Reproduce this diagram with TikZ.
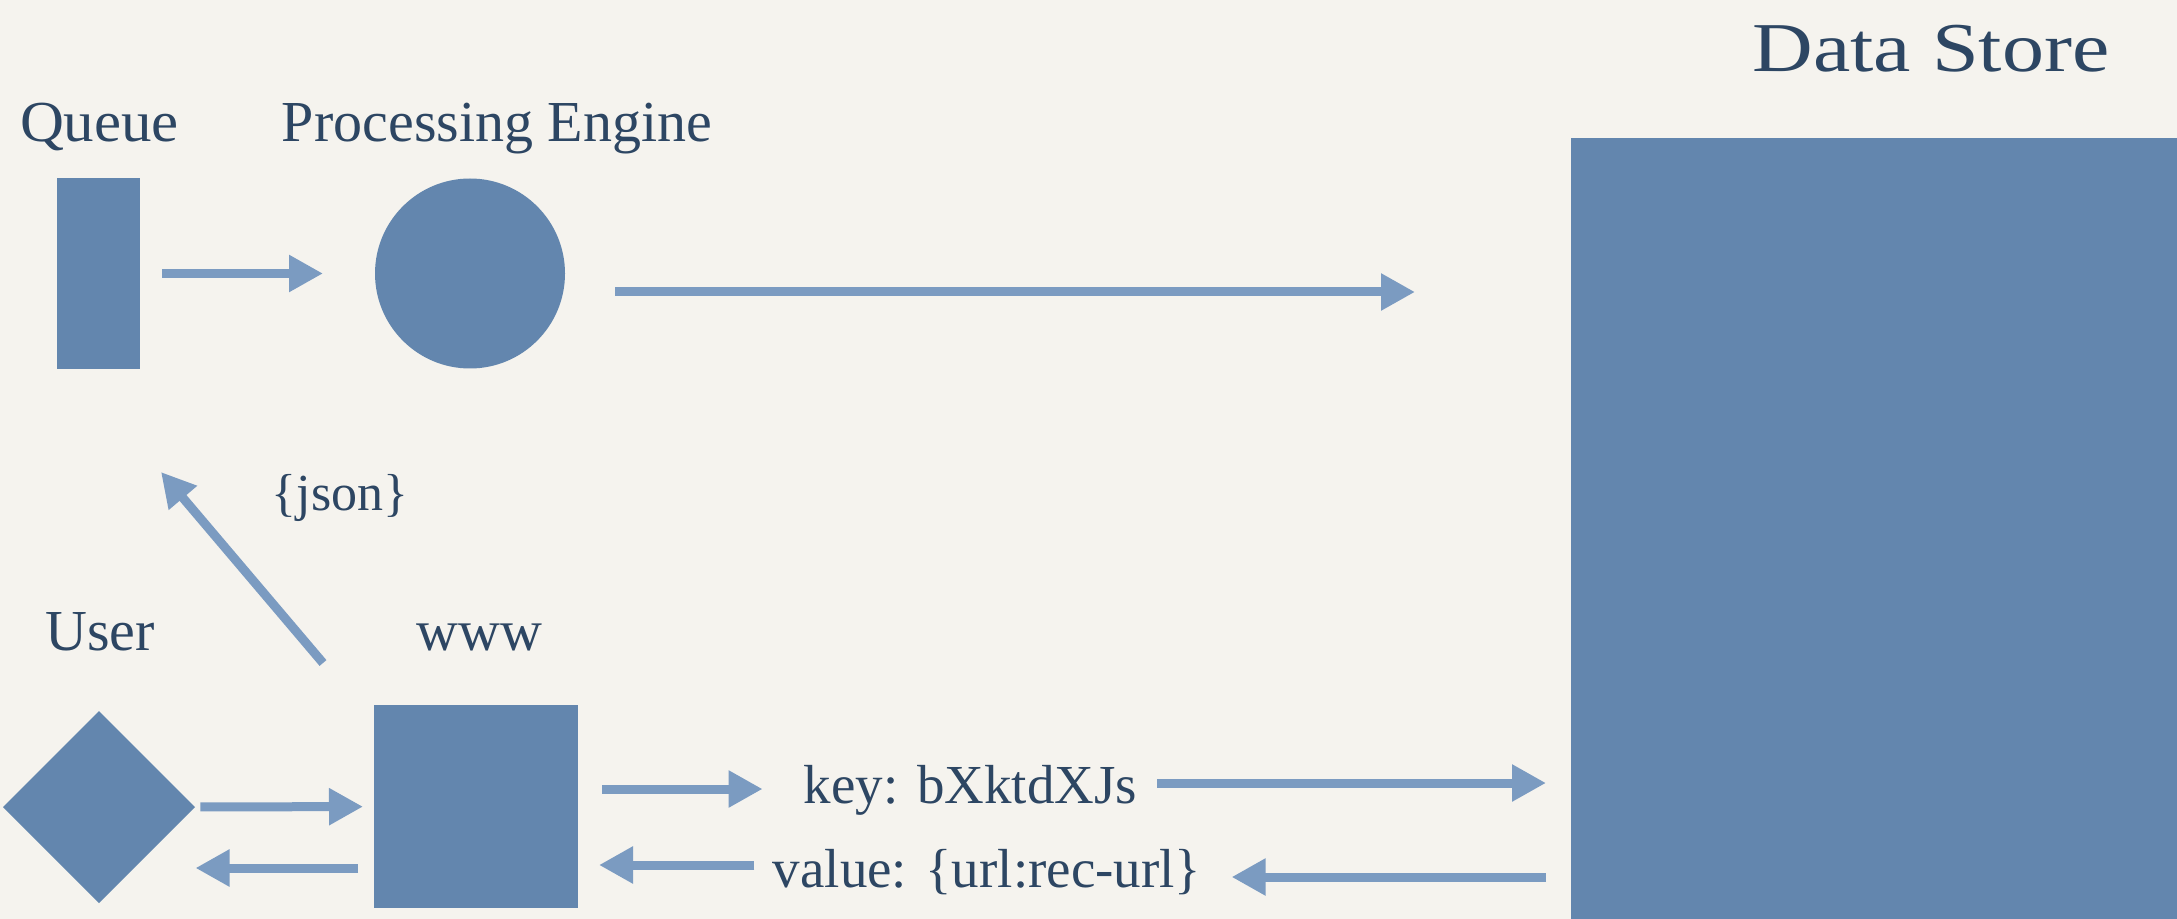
\documentclass[tikz,border=0pt]{standalone}
\usepackage{fontspec}
\setmainfont{Liberation Serif}
\usetikzlibrary{arrows.meta,shapes.geometric}
\definecolor{bg}{HTML}{F5F3EE}
\definecolor{shapec}{HTML}{6386AE}
\definecolor{arrowc}{HTML}{7B9BC1}
\definecolor{txt}{HTML}{2D4663}
\begin{document}
\begin{tikzpicture}[x=0.5pt,y=-0.5pt,
 blk/.style={fill=shapec,draw=none,inner sep=0pt,outer sep=0pt},
 lbl/.style={text=txt,inner sep=0pt,anchor=base,font=\fontsize{29}{32}\selectfont},
 small/.style={text=txt,inner sep=0pt,anchor=base,font=\fontsize{27.5}{30}\selectfont},
 arr/.style={draw=arrowc,line width=4.5pt,-{Triangle[length=17pt,width=17.5pt]}}]
\fill[bg] (0,0) rectangle (2177,919);
\useasboundingbox (0,0) rectangle (2177,919);
% shapes
\node[blk,rectangle,minimum width=41.5pt,minimum height=95.5pt] (queue) at (98.5,273.5) {};
\node[blk,circle,minimum size=95pt] (engine) at (470,273.5) {};
\node[blk,rectangle,minimum width=303pt,minimum height=390.5pt] (store) at (1874,528.5) {};
\node[blk,diamond,aspect=1,minimum width=96pt,minimum height=96pt] (user) at (99,807) {};
\node[blk,rectangle,minimum width=102pt,minimum height=101.5pt] (www) at (476,806.5) {};
% labels
\node[lbl] (queueL) at (99.5,142) {\scalebox{1.05}[1]{Queue}};
\node[lbl] (engineL) at (497,142) {Processing Engine};
\node[lbl,font=\fontsize{35}{38}\selectfont] (storeL) at (1931,72) {\scalebox{1.2}[1]{Data Store}};
\node[lbl,font=\fontsize{26}{30}\selectfont] (json) at (340,510) {\{json\}};
\node[lbl] (userL) at (100,650) {User};
\node[lbl] (wwwL) at (479.5,650) {www};
\node[small] (key) at (970.5,803) {key: bXktdXJs};
\node[small] (value) at (987,887) {value: \{url:rec-url\}};
% connectors
\draw[arr,shorten <=11pt,shorten >=26pt] (queue) -- (engine);
\coordinate (e1) at ([yshift=-9.25pt]engine.east);
\draw[arr,shorten <=25pt,shorten >=78pt] (e1) -- (e1 -| store.west);
\coordinate (jsonS) at (323,663);
\coordinate (jsonT) at (161,472);
\draw[arr] (jsonS) -- (jsonT);
\draw[arr,shorten <=2.75pt,shorten >=5.5pt] (user) -- (www);
\coordinate (w2) at ([yshift=-30.75pt]www.west);
\draw[arr,shorten <=8pt,shorten >=0.25pt] (w2) -- (w2 -| user.east);
\coordinate (kL) at ([yshift=7pt]key.base west);
\draw[arr,shorten <=12pt,shorten >=20.5pt] (kL -| www.east) -- (kL);
\coordinate (kR) at ([yshift=10pt]key.base east);
\draw[arr,shorten <=10pt,shorten >=12.5pt] (kR) -- (kR -| store.west);
\coordinate (vL) at ([yshift=11pt]value.base west);
\draw[arr,shorten <=9pt,shorten >=10.5pt] (vL) -- (vL -| www.east);
\coordinate (vR) at ([yshift=5pt]value.base east);
\draw[arr,shorten <=12.5pt,shorten >=15pt] (vR -| store.west) -- (vR);
\end{tikzpicture}
\end{document}
